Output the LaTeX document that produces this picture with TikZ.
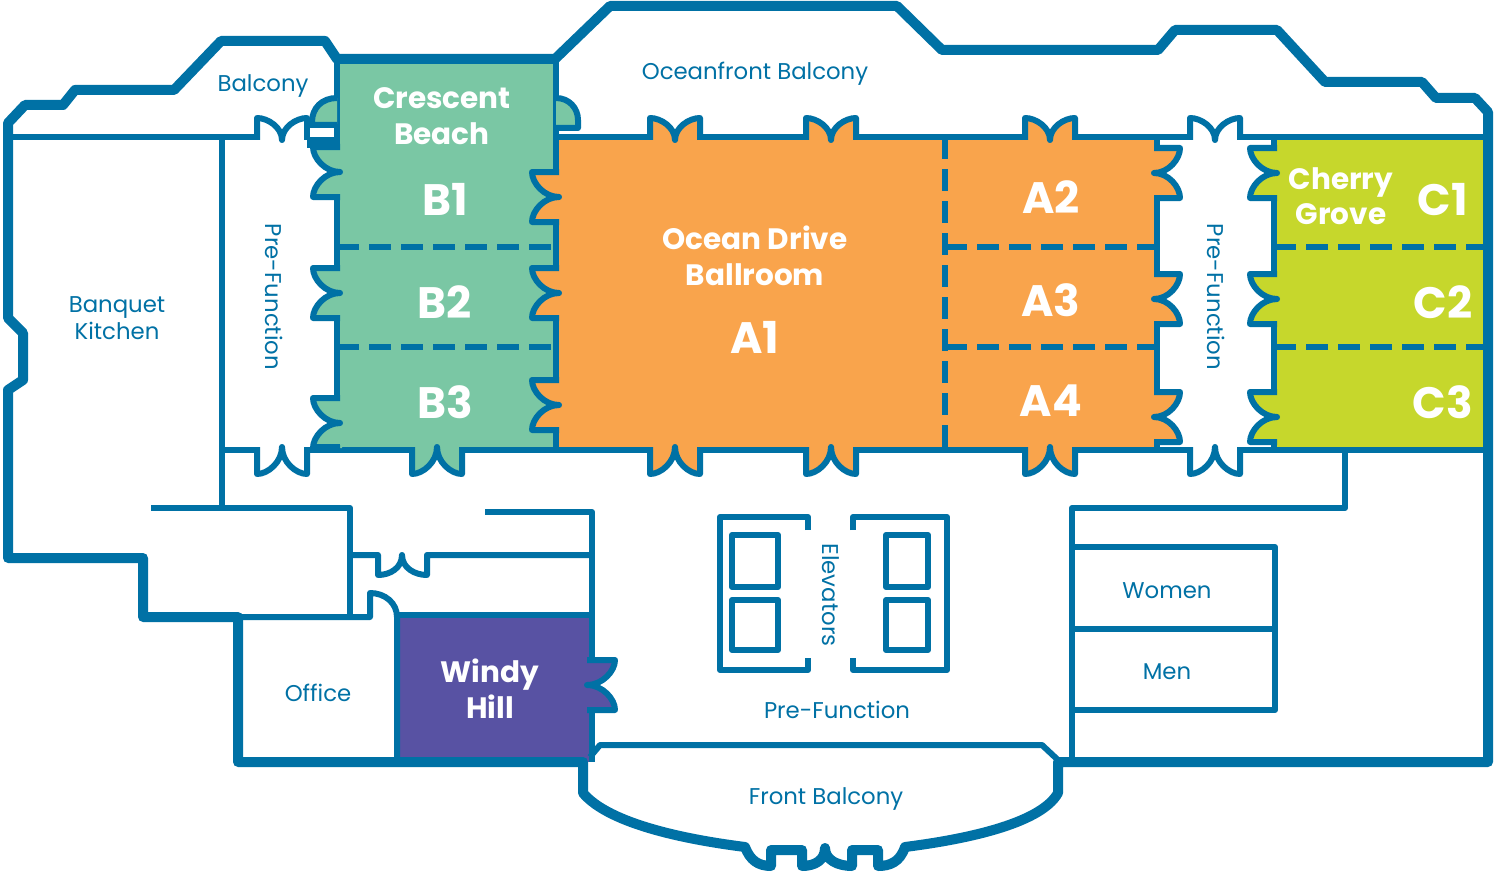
\documentclass[tikz,border=0pt]{standalone}
\usepackage{fontspec}
\setmainfont{Poppins}
\definecolor{wallblue}{HTML}{0071A5}
\definecolor{roomgreen}{HTML}{7AC7A4}
\definecolor{roomorange}{HTML}{F9A44C}
\definecolor{roomlime}{HTML}{C6D72C}
\definecolor{roompurple}{HTML}{5852A3}
\tikzset{
  wall/.style={draw=wallblue,line width=6pt,line join=round,line cap=butt},
  heavy/.style={draw=wallblue,line width=10pt,line join=round},
  part/.style={draw=wallblue,line width=6pt,dash pattern=on 22pt off 10pt},
  lab/.style={text=wallblue,inner sep=0pt,text height=16pt,text depth=0pt,font=\fontsize{22.8}{22.8}\selectfont},
  rname/.style={text=white,inner sep=0pt,text height=21pt,text depth=0pt,font=\fontsize{29.5}{29.5}\selectfont\bfseries},
  rcode/.style={text=white,inner sep=0pt,text height=31pt,text depth=0pt,font=\fontsize{44}{44}\selectfont\bfseries},
}
% cx, cy, local x unit, local y unit, depth, fill
\newcommand{\doorway}[6]{%
  \begin{scope}[shift={(#1,#2)},x={#3},y={#4}]
    \fill[#6] (-25,5) -- (-25,-#5) .. controls (-14,-#5) and (0,-#5*0.5) .. (0,3) .. controls (0,-#5*0.5) and (14,-#5) .. (25,-#5) -- (25,5) -- cycle;
    \draw[wall] (-25,3) -- (-25,-#5) .. controls (-14,-#5) and (0,-#5*0.5) .. (0,3) .. controls (0,-#5*0.5) and (14,-#5) .. (25,-#5) -- (25,3);
  \end{scope}}
\newcommand{\opentop}[2]{\doorway{#1}{137}{(1pt,0pt)}{(0pt,-1pt)}{19}{#2}}
\newcommand{\openbottom}[2]{\doorway{#1}{450}{(1pt,0pt)}{(0pt,1pt)}{24}{#2}}
\newcommand{\openleft}[3]{\doorway{#1}{#2}{(0pt,1pt)}{(1pt,0pt)}{24}{#3}}
\newcommand{\openright}[3]{\doorway{#1}{#2}{(0pt,1pt)}{(-1pt,0pt)}{23}{#3}}
\begin{document}
\begin{tikzpicture}[x=1pt,y=-1pt]
\useasboundingbox (0,0) rectangle (1496,872);
\fill[white] (0,0) rectangle (1496,872);
% rooms
\fill[roomgreen] (337,59) rectangle (556,450);
\fill[roomorange] (556,137) rectangle (1157,450);
\fill[roomlime] (1274,137) rectangle (1488,450);
\fill[roompurple] (397,615) rectangle (590,762);
% thin walls
\draw[wall] (8,137) -- (337,137);
\draw[wall] (556,137) -- (1488,137);
\draw[wall] (222,450) -- (1488,450);
\draw[wall] (222,137) -- (222,508);
\draw[wall] (337,59) -- (337,450);
\draw[wall] (556,59) -- (556,450);
\draw[wall] (1157,137) -- (1157,450);
\draw[wall] (1274,137) -- (1274,450);
\draw[wall] (151,508) -- (350,508) -- (350,617);
\draw[wall] (485,512) -- (592,512) -- (592,762);
\draw[wall] (143,617) -- (370,617) -- (370,593) .. controls (385,593) and (397,603) .. (397,617) -- (397,762);
\draw[wall] (397,615) -- (592,615);
\draw[wall] (350,555) -- (378,555) -- (378,575) .. controls (390,575) and (402,568) .. (402,555) .. controls (402,568) and (415,575) .. (427,575) -- (427,555) -- (592,555);
\draw[wall] (1345,450) -- (1345,508) -- (1072,508) -- (1072,762);
\draw[wall] (1072,547) -- (1275,547) -- (1275,710) -- (1072,710);
\draw[wall] (1072,629) -- (1275,629);
\draw[wall] (590,757) -- (600,745) -- (1042,745) -- (1058,760);
% elevators
\draw[wall] (808,530) -- (808,517) -- (720,517) -- (720,670) -- (808,670) -- (808,658);
\draw[wall] (853,530) -- (853,517) -- (947,517) -- (947,670) -- (853,670) -- (853,658);
\draw[wall] (732,535) rectangle (778,587);
\draw[wall] (732,600) rectangle (778,650);
\draw[wall] (886,535) rectangle (928,587);
\draw[wall] (886,600) rectangle (928,650);
% partitions
\foreach \yy in {247,347}{
  \draw[part] (337,\yy) -- (556,\yy);
  \draw[part] (945,\yy) -- (1157,\yy);
  \draw[part] (1274,\yy) -- (1488,\yy);
}
\draw[part] (945,137) -- (945,450);
% crescent beach upper leaves
\filldraw[wall,fill=roomgreen] (337,98) .. controls (322,98) and (312,108) .. (312,122) -- (312,125) -- (337,125);
\filldraw[wall,fill=roomgreen] (556,98) .. controls (569,98) and (578,108) .. (578,120) -- (578,128) -- (556,128);
% doors
\opentop{282}{white}
\opentop{675}{roomorange}
\opentop{831}{roomorange}
\opentop{1050}{roomorange}
\opentop{1215}{white}
\openbottom{282}{white}
\openbottom{437}{roomgreen}
\openbottom{675}{roomorange}
\openbottom{831}{roomorange}
\openbottom{1050}{roomorange}
\openbottom{1215}{white}
\openleft{337}{172}{roomgreen}
\openleft{337}{293}{roomgreen}
\openleft{337}{423}{roomgreen}
\openleft{556}{197}{roomorange}
\openleft{556}{293}{roomorange}
\openleft{556}{405}{roomorange}
\openright{1157}{173}{roomorange}
\openright{1157}{299}{roomorange}
\openright{1157}{417}{roomorange}
\openleft{1274}{173}{roomlime}
\openleft{1274}{299}{roomlime}
\openleft{1274}{417}{roomlime}
\doorway{590}{685}{(0pt,1pt)}{(-1pt,0pt)}{25}{roompurple}
% small frame left of crescent beach
\fill[wallblue] (307,124) rectangle (340,148);
\fill[white] (310,128) rectangle (334,137);
\fill[wallblue] (311,444) rectangle (340,452);
% outer wall
\draw[heavy] (143,617) -- (143,558) -- (8,558) -- (8,390) -- (23,380) -- (23,333) -- (8,318) -- (8,123) -- (25,105) -- (63,105) -- (75,90) -- (174,90) -- (221,41) -- (325,41) -- (337,59) -- (555,59) -- (610,6) -- (897,6) -- (942,50) -- (1158,50) -- (1175,30) -- (1277,30) -- (1325,82) -- (1422,82) -- (1436,98) -- (1475,98) -- (1488,112) -- (1488,762) -- (1058,762) -- (1058,793) .. controls (1040,825) and (960,840) .. (905,847) .. controls (900,862) and (890,866) .. (878,866) -- (878,850) -- (852,850) -- (852,866) .. controls (838,866) and (825,860) .. (825,848) .. controls (825,860) and (815,866) .. (802,866) -- (802,850) -- (771,850) -- (771,866) .. controls (758,866) and (750,860) .. (745,847) .. controls (690,840) and (610,825) .. (583,793) -- (583,762) -- (238,762) -- (238,617) -- cycle;
% labels
\node[lab] (balcony) at (263,84) {Balcony};
\node[lab] (ocean) at (755,72) {Oceanfront Balcony};
\node[lab] (kitchen1) at (117,304) {Banquet};
\node[lab] (kitchen2) at (117,331) {Kitchen};
\node[lab,rotate=-90] (prefl) at (273,297) {Pre-Function};
\node[lab,rotate=-90] (prefr) at (1215,297) {Pre-Function};
\node[lab,rotate=-90] (elev) at (830,595) {Elevators};
\node[lab] (office) at (318,693) {Office};
\node[lab] (prefc) at (837,710) {Pre-Function};
\node[lab] (front) at (826,796) {Front Balcony};
\node[lab] (women) at (1167,590) {Women};
\node[lab] (men) at (1167,671) {Men};
\node[rname] (cb1) at (442,98) {Crescent};
\node[rname] (cb2) at (442,134) {Beach};
\node[rname] (od1) at (755,239) {Ocean Drive};
\node[rname] (od2) at (755,275) {Ballroom};
\node[rname] (cg1) at (1341,179) {Cherry};
\node[rname] (cg2) at (1341,214) {Grove};
\node[rname] (wh1) at (490,672) {Windy};
\node[rname] (wh2) at (490,708) {Hill};
\node[rcode] (b1) at (445,200) {B1};
\node[rcode] (b2) at (445,303) {B2};
\node[rcode] (b3) at (445,403) {B3};
\node[rcode] (a1) at (755,338) {A1};
\node[rcode] (a2) at (1051,198) {A2};
\node[rcode] (a3) at (1051,301) {A3};
\node[rcode] (a4) at (1051,401) {A4};
\node[rcode] (c1) at (1443,200) {C1};
\node[rcode] (c2) at (1443,303) {C2};
\node[rcode] (c3) at (1443,403) {C3};
\end{tikzpicture}
\end{document}
